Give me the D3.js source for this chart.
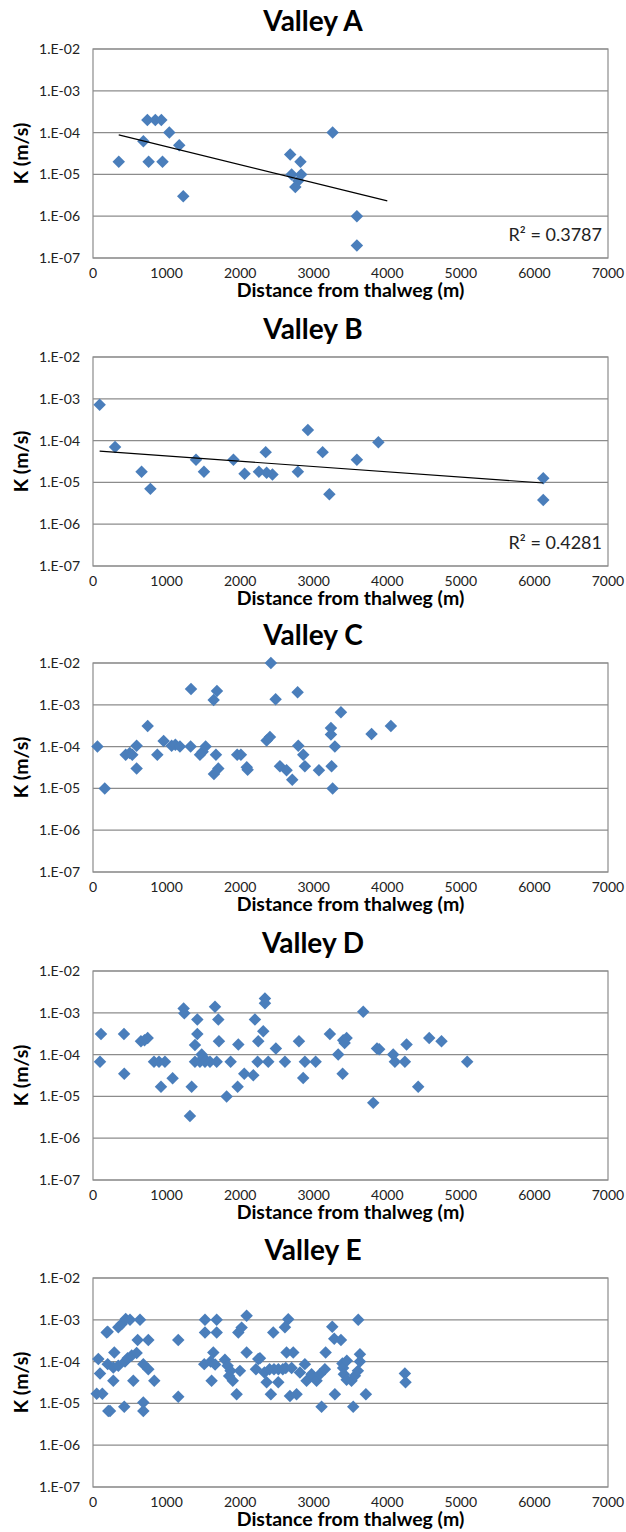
<!doctype html>
<html>
  <head>
    <meta charset="utf-8">
    <title>K vs distance from thalweg</title>
    <script src="https://d3js.org/d3.v7.min.js"></script>
    <style type="text/css">
      body { margin: 0; background-color: #ffffff; }
      svg { display: block; }
      text { font-family: Lato, "Open Sans", sans-serif; }
    </style>
  </head>
  <body>
    <script>
// tick values and labels
var xTicks = [0, 1000, 2000, 3000, 4000, 5000, 6000, 7000];
var yTicks = [1e-2, 1e-3, 1e-4, 1e-5, 1e-6, 1e-7];
var yTickLabels = ["1.E-02", "1.E-03", "1.E-04", "1.E-05", "1.E-06", "1.E-07"];

var titles = ["Valley A", "Valley B", "Valley C", "Valley D", "Valley E"];

// [distance (m), K (m/s)]
var valleyA = [[350,2e-5],[685,6.2e-5],[739,2e-4],[756,2e-5],[847,2e-4],[929,2e-4],[945,2e-5],
  [1037,1e-4],[1172,5e-5],[1227,3e-6],[2680,3e-5],[2820,2e-5],[2700,1e-5],[2830,1e-5],
  [2790,7e-6],[2750,5e-6],[3257,1e-4],[3587,1e-6],[3587,2e-7]];

var valleyB = [[90,7.2e-4],[300,7e-5],[660,1.8e-5],[780,7e-6],[1400,3.5e-5],[1508,1.8e-5],
  [1909,3.5e-5],[2060,1.6e-5],[2255,1.8e-5],[2347,5.3e-5],[2360,1.7e-5],[2439,1.55e-5],
  [2785,1.8e-5],[2921,1.8e-4],[3121,5.3e-5],[3213,5.2e-6],[3587,3.5e-5],[3879,9.1e-5],
  [6120,1.25e-5],[6120,3.8e-6]];

var valleyC = [[60,1e-4],[160,1e-5],[444,6.4e-5],[500,7e-5],[534,6.4e-5],[593,1.05e-4],[593,3e-5],
  [743,3.1e-4],[874,6.4e-5],[960,1.37e-4],[1069,1.05e-4],[1120,1.1e-4],[1182,1e-4],[1327,1e-4],
  [1332,2.4e-3],[1454,6.4e-5],[1490,7.5e-5],[1531,1e-4],[1640,1.3e-3],[1685,2.15e-3],
  [1671,6.4e-5],[1644,2.2e-5],[1703,3e-5],[1960,6.4e-5],[2010,6.4e-5],[2090,3.2e-5],
  [2102,2.8e-5],[2360,1.4e-4],[2405,1.7e-4],[2418,1e-2],[2482,1.36e-3],[2541,3.4e-5],
  [2631,2.7e-5],[2708,1.6e-5],[2781,2e-3],[2790,1.05e-4],[2858,6.4e-5],[2880,3.4e-5],
  [3071,2.7e-5],[3234,2.8e-4],[3234,1.95e-4],[3243,3.4e-5],[3257,1e-5],[3288,1e-4],
  [3370,6.6e-4],[3786,2e-4],[4049,3.1e-4]];

var valleyD = [[109,3.1e-4],[95,6.7e-5],[421,3.1e-4],[425,3.5e-5],[652,2.1e-4],[700,2.2e-4],
  [743,2.5e-4],[829,6.7e-5],[897,6.7e-5],[978,6.7e-5],[924,1.7e-5],[1082,2.7e-5],[1232,1.27e-3],
  [1241,9.7e-4],[1318,3.4e-6],[1341,1.7e-5],[1418,6.9e-4],[1418,3.1e-4],[1386,1.7e-4],
  [1386,6.7e-5],[1477,1e-4],[1454,6.7e-5],[1500,8.5e-5],[1522,6.7e-5],[1590,6.7e-5],
  [1681,6.7e-5],[1658,1.4e-3],[1703,6.9e-4],[1712,2.1e-4],[1871,6.7e-5],[1816,1e-5],
  [1975,1.75e-4],[1966,1.7e-5],[2056,3.5e-5],[2179,3.2e-5],[2201,6.9e-4],[2246,2.1e-4],
  [2314,3.6e-4],[2337,2.2e-3],[2337,1.7e-3],[2237,6.7e-5],[2382,6.7e-5],[2486,1.4e-4],
  [2609,6.7e-5],[2799,2.1e-4],[2880,6.7e-5],[2857,2.75e-5],[3026,6.7e-5],[3220,3.1e-4],
  [3333,1e-4],[3393,3.5e-5],[3401,2.2e-4],[3420,1.9e-4],[3447,2.5e-4],[3673,1.06e-3],
  [3809,7e-6],[3860,1.4e-4],[3890,1.35e-4],[4080,1e-4],[4103,6.7e-5],[4239,6.7e-5],
  [4262,1.75e-4],[4420,1.7e-5],[4570,2.5e-4],[4737,2.1e-4],[5086,6.7e-5]];

var valleyE = [[72,1.15e-4],[95,5.2e-5],[50,1.7e-5],[127,1.7e-5],[186,5e-4],[200,5.2e-4],
  [208,6.6e-6],[231,6.6e-6],[290,1.65e-4],[200,8.7e-5],[276,7.2e-5],[276,3.5e-5],[344,8e-5],
  [344,6.6e-4],[390,7.9e-4],[444,1.05e-3],[503,1e-3],[639,1e-3],[435,1e-4],[471,1.2e-4],
  [526,1.4e-4],[593,1.6e-4],[425,8.3e-6],[548,3.5e-5],[607,3.3e-4],[684,8.7e-5],[752,3.3e-4],
  [752,6.6e-5],[684,1.05e-5],[684,6.6e-6],[833,3.5e-5],[1159,3.3e-4],[1159,1.45e-5],
  [1522,1e-3],[1681,1e-3],[1522,5e-4],[1681,5e-4],[1635,1.65e-4],[1512,8.7e-5],[1600,1e-4],
  [1660,8.5e-5],[1612,3.5e-5],[1793,1.1e-4],[1830,8e-5],[1870,6e-5],[1850,4.5e-5],[1900,3.5e-5],
  [1952,1.66e-5],[1975,5e-4],[2020,6.5e-4],[2088,1.25e-3],[2088,1.65e-4],[1997,6e-5],
  [2246,1.15e-4],[2215,6.6e-5],[2654,1.03e-3],[2609,6.6e-4],[2450,5e-4],[2269,1.2e-4],
  [2631,1.65e-4],[2722,1.65e-4],[2330,5.5e-5],[2400,6.6e-5],[2460,6.6e-5],[2520,6.6e-5],
  [2580,6.6e-5],[2620,7e-5],[2700,7e-5],[2360,3.2e-5],[2518,3.2e-5],[2418,1.66e-5],
  [2677,1.5e-5],[2767,1.66e-5],[2880,8.7e-5],[2813,5.5e-5],[2903,3.5e-5],[2971,5e-5],
  [3039,3.5e-5],[3084,5e-5],[3152,6.6e-5],[3162,1.65e-4],[3107,8.3e-6],[3252,6.8e-4],
  [3279,3.5e-4],[3370,3.3e-4],[3288,1.66e-5],[3390,9e-5],[3400,7e-5],[3410,5e-5],
  [3450,1.05e-4],[3447,3.7e-5],[3514,3.5e-5],[3560,4.6e-5],[3600,6e-5],[3605,1e-3],
  [3628,1.5e-4],[3628,1e-4],[3537,8.3e-6],[3709,1.66e-5],[4239,5.2e-5],[4248,3.2e-5]];

// trend lines (exponential fit) only on A and B
var trendRanges = [[350, 4000], [90, 6120], null, null, null];
var r2Labels = ["R\u00b2 = 0.3787", "R\u00b2 = 0.4281", null, null, null];

var allData = [valleyA, valleyB, valleyC, valleyD, valleyE];

var w = 626, h = 1532;
var left = 93, right = 608;
var panelTops = [49, 357, 663, 971, 1278];
var plotH = 209;

var svg = d3.select("body").append("svg")
  .attr("width", w)
  .attr("height", h);

var x = d3.scaleLinear().domain([0, 7000]).range([left, right]);

var diamond = d3.symbol().type(d3.symbolSquare).size(78);

// least squares on log10(K)
function fitExp(data) {
  var mx = d3.mean(data, function(d) { return d[0]; });
  var my = d3.mean(data, function(d) { return Math.log10(d[1]); });
  var sxy = d3.sum(data, function(d) { return (d[0] - mx) * (Math.log10(d[1]) - my); });
  var sxx = d3.sum(data, function(d) { return (d[0] - mx) * (d[0] - mx); });
  var b = sxy / sxx;
  return function(v) { return Math.pow(10, my + b * (v - mx)); };
}

allData.forEach(function(data, i) {
  var top = panelTops[i];
  var y = d3.scaleLog().domain([1e-7, 1e-2]).range([top + plotH, top]);
  var g = svg.append("g");

  // title
  g.append("text")
    .attr("x", w / 2)
    .attr("y", top - 18)
    .attr("text-anchor", "middle")
    .style("font-size", "28px")
    .style("font-weight", "bold")
    .style("fill", "#000")
    .text(titles[i]);

  // gridlines
  g.selectAll(".grid")
    .data(yTicks)
    .enter()
    .append("line")
    .attr("x1", left)
    .attr("x2", right)
    .attr("y1", function(d) { return y(d); })
    .attr("y2", function(d) { return y(d); })
    .style("stroke", "#8c8c8c")
    .style("stroke-width", 1.2);

  // plot border
  g.append("rect")
    .attr("x", left)
    .attr("y", top)
    .attr("width", right - left)
    .attr("height", plotH)
    .style("fill", "none")
    .style("stroke", "#8c8c8c")
    .style("stroke-width", 1.2);

  // y tick labels
  g.selectAll(".ylab")
    .data(yTicks)
    .enter()
    .append("text")
    .attr("x", left - 13)
    .attr("y", function(d) { return y(d); })
    .attr("dy", "0.35em")
    .attr("text-anchor", "end")
    .style("font-size", "14px")
    .style("fill", "#222")
    .text(function(d, j) { return yTickLabels[j]; });

  // x tick labels
  g.selectAll(".xlab")
    .data(xTicks)
    .enter()
    .append("text")
    .attr("x", function(d) { return x(d); })
    .attr("y", top + plotH + 20)
    .attr("text-anchor", "middle")
    .style("font-size", "14px")
    .style("fill", "#222")
    .text(function(d) { return d; });

  // axis titles
  g.append("text")
    .attr("x", (left + right) / 2)
    .attr("y", top + plotH + 39)
    .attr("text-anchor", "middle")
    .style("font-size", "19.5px")
    .style("font-weight", "bold")
    .style("fill", "#000")
    .text("Distance from thalweg (m)");

  g.append("text")
    .attr("transform", "translate(28," + (top + plotH / 2) + ") rotate(-90)")
    .attr("text-anchor", "middle")
    .style("font-size", "19.5px")
    .style("font-weight", "bold")
    .style("fill", "#000")
    .text("K (m/s)");

  // points
  g.selectAll(".pt")
    .data(data)
    .enter()
    .append("path")
    .attr("d", diamond)
    .attr("transform", function(d) {
      return "translate(" + x(d[0]) + "," + y(d[1]) + ") rotate(45)";
    })
    .style("fill", "#4a7ebb");

  // trend line
  if (trendRanges[i]) {
    var f = fitExp(data);
    var line = d3.line()
      .x(function(d) { return x(d); })
      .y(function(d) { return y(f(d)); });
    g.append("path")
      .datum(trendRanges[i])
      .attr("d", line)
      .style("fill", "none")
      .style("stroke", "#000")
      .style("stroke-width", 1.2);
  }

  if (r2Labels[i]) {
    g.append("text")
      .attr("x", right - 6)
      .attr("y", top + plotH - 17)
      .attr("text-anchor", "end")
      .style("font-size", "18px")
      .style("fill", "#222")
      .text(r2Labels[i]);
  }
});
    </script>
  </body>
</html>
